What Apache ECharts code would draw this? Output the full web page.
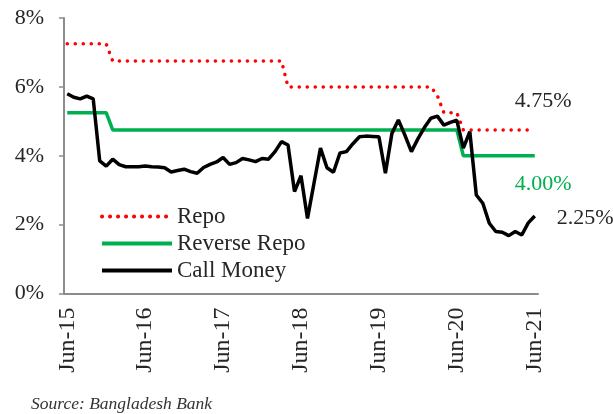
<!DOCTYPE html>
<html>
<head>
<meta charset="utf-8">
<style>
html,body{margin:0;padding:0;background:#fff;}
#c{width:613px;height:414px;}
</style>
<script src="https://cdn.jsdelivr.net/npm/echarts@6/dist/echarts.min.js"></script>
</head>
<body>
<div id="c"></div>
<script>
// Monthly categories Jun-15 .. Jun-21
var monthNames = ['Jan','Feb','Mar','Apr','May','Jun','Jul','Aug','Sep','Oct','Nov','Dec'];
var categories = [];
for (var k = 0; k < 73; k++) {
  var m = (5 + k) % 12;
  var y = 15 + Math.floor((5 + k) / 12);
  categories.push(monthNames[m] + '-' + y);
}

var repo = [
  7.25,7.25,7.25,7.25,7.25,7.25,7.25,
  6.75,6.75,6.75,6.75,6.75,6.75,6.75,6.75,6.75,6.75,6.75,6.75,6.75,6.75,6.75,6.75,6.75,6.75,6.75,6.75,6.75,6.75,6.75,6.75,6.75,6.75,6.75,
  6.00,6.00,6.00,6.00,6.00,6.00,6.00,6.00,6.00,6.00,6.00,6.00,6.00,6.00,6.00,6.00,6.00,6.00,6.00,6.00,6.00,6.00,6.00,
  5.75,
  5.25,5.25,5.25,
  4.75,4.75,4.75,4.75,4.75,4.75,4.75,4.75,4.75,4.75,4.75,4.75
];

var reverseRepo = [
  5.25,5.25,5.25,5.25,5.25,5.25,5.25,
  4.75,4.75,4.75,4.75,4.75,4.75,4.75,4.75,4.75,4.75,4.75,4.75,4.75,4.75,4.75,4.75,4.75,4.75,
  4.75,4.75,4.75,4.75,4.75,4.75,4.75,4.75,4.75,4.75,4.75,4.75,4.75,4.75,4.75,4.75,4.75,4.75,
  4.75,4.75,4.75,4.75,4.75,4.75,4.75,4.75,4.75,4.75,4.75,4.75,4.75,4.75,4.75,4.75,4.75,4.75,
  4.00,4.00,4.00,4.00,4.00,4.00,4.00,4.00,4.00,4.00,4.00,4.00
];

var callMoney = [
  5.80,5.70,5.65,5.73,5.65,3.85,3.70,3.90,3.74,3.68,
  3.68,3.68,3.70,3.68,3.67,3.65,3.53,3.57,3.61,3.54,
  3.49,3.66,3.75,3.82,3.95,3.75,3.80,3.92,3.88,3.83,
  3.92,3.90,4.12,4.41,4.31,2.96,3.42,2.18,3.20,4.22,
  3.65,3.52,4.08,4.12,4.35,4.55,4.57,4.56,4.55,3.49,
  4.65,5.04,4.60,4.12,4.49,4.82,5.09,5.15,4.89,4.97,
  5.03,4.22,4.70,2.86,2.62,2.04,1.80,1.78,1.68,1.80,
  1.70,2.05,2.25
];

var yTicks = [0, 2, 4, 6, 8];

var FONT = 'Liberation Serif';
var chart = echarts.init(document.getElementById('c'), null, {renderer: 'canvas'});
var endFmt = function (p) { return Number(p.value).toFixed(2) + '%'; };

chart.setOption({
  animation: false,
  backgroundColor: '#ffffff',
  textStyle: {fontFamily: FONT},
  title: {
    text: 'Source: Bangladesh Bank',
    left: 26, top: 390,
    textStyle: {fontFamily: FONT, fontStyle: 'italic', fontWeight: 'normal', fontSize: 17.5, color: '#333333'}
  },
  grid: {left: 64, top: 18, width: 474, height: 275.5, containLabel: false},
  legend: {
    orient: 'vertical',
    left: 100, top: 205, padding: 0,
    itemWidth: 70, itemHeight: 14, itemGap: 4,
    itemStyle: {opacity: 0},
    lineStyle: {width: 4},
    textStyle: {fontFamily: FONT, fontSize: 23, color: '#262626', lineHeight: 22},
    data: ['Repo', 'Reverse Repo', 'Call Money']
  },
  xAxis: {
    type: 'category',
    data: categories,
    boundaryGap: true,
    axisLine: {lineStyle: {color: '#8c8c8c', width: 2}},
    axisTick: {show: false},
    axisLabel: {
      interval: 11, rotate: 90, margin: 14,
      fontFamily: FONT, fontSize: 24, color: '#262626'
    },
    splitLine: {show: false}
  },
  yAxis: {
    type: 'value',
    min: yTicks[0], max: yTicks[yTicks.length - 1], interval: 2,
    axisLine: {show: true, lineStyle: {color: '#8c8c8c', width: 2}},
    axisTick: {show: true, length: 5, lineStyle: {color: '#8c8c8c', width: 1.5}},
    axisLabel: {formatter: '{value}%', margin: 20, fontFamily: FONT, fontSize: 22, color: '#262626'},
    splitLine: {show: false}
  },
  series: [
    {
      name: 'Repo', type: 'line', data: repo, symbol: 'none',
      lineStyle: {color: '#ff0000', width: 3.5, type: [0.1, 7.9], cap: 'round'},
      itemStyle: {color: '#ff0000'},
      endLabel: {show: true, formatter: endFmt, offset: [-28, -29], fontFamily: FONT, fontSize: 22, color: '#262626'},
      z: 3
    },
    {
      name: 'Reverse Repo', type: 'line', data: reverseRepo, symbol: 'none',
      lineStyle: {color: '#00b050', width: 3.5},
      itemStyle: {color: '#00b050'},
      endLabel: {show: true, formatter: endFmt, offset: [-28, 28], fontFamily: FONT, fontSize: 22, color: '#00b050'},
      z: 2
    },
    {
      name: 'Call Money', type: 'line', data: callMoney, symbol: 'none',
      lineStyle: {color: '#000000', width: 3.5},
      itemStyle: {color: '#000000'},
      endLabel: {show: true, formatter: endFmt, offset: [14, 2], fontFamily: FONT, fontSize: 22, color: '#262626'},
      z: 4
    }
  ]
});
</script>
</body>
</html>
